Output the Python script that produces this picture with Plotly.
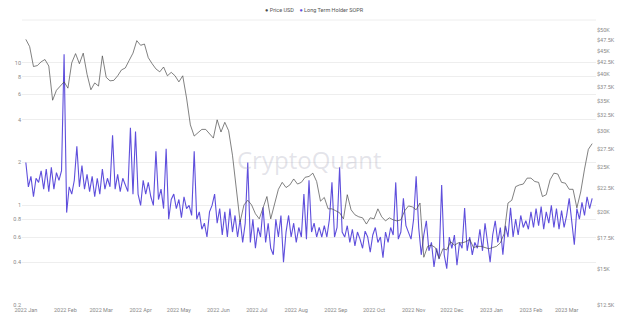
import math
import pandas as pd
import plotly.graph_objects as go

# ---- data ----
price_start = "2022-01-01"   # 3-day steps
price_usd_k = [
    47.7, 46.0, 41.6, 41.8, 42.6, 43.1, 41.7, 35.1, 36.9, 37.7, 38.5,
    37.3, 42.4, 44.4, 42.2, 44.5, 40.0, 37.0, 38.3, 37.7,
    43.9, 39.4, 38.7, 38.8, 39.7, 40.9, 41.3, 42.9, 44.5, 47.4,
    46.3, 46.6, 43.5, 42.2, 41.1, 40.5, 41.5, 39.7, 40.4, 39.7,
    38.5, 39.7, 35.5, 31.0, 29.3, 29.8, 30.3, 30.3, 29.6, 29.0, 31.8,
    29.9, 31.4, 30.1, 26.6, 22.6, 19.0, 20.7, 21.2, 20.7, 19.8,
    19.3, 20.5, 21.6, 19.3, 20.8, 22.4, 23.2, 22.6, 22.9, 23.6,
    23.0, 23.2, 23.8, 23.9, 24.3, 23.3, 21.1, 21.5, 20.3, 20.3,
    20.1, 19.9, 19.3, 21.8, 20.2, 19.7, 19.5, 19.4, 18.8, 19.4,
    19.3, 20.3, 19.5, 19.1, 19.4, 19.2, 19.1, 19.2, 20.1, 20.6, 20.5,
    20.2, 20.9, 15.9, 16.8, 16.9, 16.7, 15.8, 16.6, 16.5, 17.2,
    16.9, 17.1, 17.1, 17.2, 17.4, 16.7, 16.8, 16.8, 16.7, 16.6,
    16.7, 16.8, 17.1, 17.9, 20.9, 21.2, 22.7, 22.9, 23.0, 23.7,
    23.7, 23.3, 23.2, 21.6, 21.8, 23.5, 24.3, 24.2, 23.2, 23.1,
    22.4, 22.4, 20.4, 22.1, 24.8, 27.4, 28.2,
]

sopr_start = "2022-01-01"    # 2-day steps
lth_sopr = [
    # Jan - May 2022
    2.0, 1.35, 1.6, 1.15, 1.55, 1.45, 1.75, 1.3, 1.8, 1.25, 1.85, 1.3, 1.7, 1.5, 1.75,
    11.5, 0.89, 1.35, 1.2, 1.5, 2.6, 1.35, 1.9, 1.3, 1.65, 1.25, 1.6, 1.15, 1.55, 1.2,
    1.8, 1.3, 1.55, 1.35, 3.1, 1.3, 1.65, 1.25, 1.55, 1.4, 1.25, 3.5, 1.2, 3.3, 1.2,
    1.0, 1.5, 1.2, 1.45, 1.15, 1.0, 2.4, 1.1, 1.3, 0.95, 2.5, 0.8, 1.1, 1.2, 0.95,
    1.1, 0.82, 1.15, 0.95, 1.0, 0.85, 2.4, 0.8, 0.9, 0.68, 0.75, 0.6,
    # late May - Oct 2022
    0.9, 1.0, 1.2, 0.75, 0.95, 0.62, 0.9, 0.6, 0.95, 0.65, 0.85, 0.6, 0.8, 0.55, 0.75,
    2.0, 0.55, 0.8, 0.5, 0.7, 0.6, 0.97, 0.55, 0.75, 0.5, 0.45, 0.8, 0.6, 0.85, 0.4,
    0.65, 0.85, 0.6, 0.75, 0.55, 0.7, 0.6, 1.2, 0.58, 1.5, 0.65, 0.75, 0.6, 0.7, 0.6,
    0.72, 0.6, 0.8, 1.45, 0.6, 0.7, 1.85, 0.65, 0.6, 0.72, 0.55, 0.68, 0.52, 0.65, 0.58,
    0.5, 0.66, 0.6, 0.47, 0.62, 0.7, 0.55, 0.6, 0.43, 0.65, 0.55, 0.7, 0.62, 1.45, 0.58,
    0.65, 1.12,
    # Nov 2022 - Mar 2023
    0.72, 0.65, 0.58, 0.8, 1.6, 0.7, 0.45, 0.62, 0.78, 0.48, 0.55, 0.37, 0.5, 0.42, 1.39,
    0.45, 0.36, 0.6, 0.5, 0.62, 0.38, 0.55, 0.5, 0.96, 0.48, 0.6, 0.45, 0.55, 0.5, 0.68,
    0.48, 0.75, 0.55, 0.4, 0.62, 0.78, 0.55, 0.7, 0.45, 0.72, 0.6, 0.96, 0.6, 0.8, 0.62,
    0.85, 0.7, 0.78, 0.68, 0.9, 0.7, 0.95, 0.72, 0.98, 0.68, 0.9, 0.75, 1.0, 0.7, 0.95,
    0.68, 0.92, 0.7, 0.85, 1.12, 0.75, 0.53, 0.95, 0.8, 1.05, 0.85, 1.15, 0.95, 1.12,
]

left_ticks = [0.2, 0.4, 0.6, 0.8, 1, 2, 4, 6, 8, 10]
left_labels = ["0.2", "0.4", "0.6", "0.8", "1", "2", "4", "6", "8", "10"]
right_ticks = [12500, 15000, 17500, 20000, 22500, 25000, 27500, 30000, 32500,
               35000, 37500, 40000, 42500, 45000, 47500, 50000]
right_labels = ["$12.5K", "$15K", "$17.5K", "$20K", "$22.5K", "$25K", "$27.5K", "$30K",
                "$32.5K", "$35K", "$37.5K", "$40K", "$42.5K", "$45K", "$47.5K", "$50K"]

price_dates = pd.date_range(price_start, periods=len(price_usd_k), freq="3D")
sopr_dates = pd.date_range(sopr_start, periods=len(lth_sopr), freq="2D")

PRICE_C = "#4a4a4a"
SOPR_C = "#5f4fdc"
FONT = "Roboto"

fig = go.Figure()
fig.add_trace(go.Scatter(x=sopr_dates, y=lth_sopr, mode="lines", yaxis="y",
                         line=dict(color=SOPR_C, width=1.1), showlegend=False,
                         name="Long Term Holder SOPR"))
fig.add_trace(go.Scatter(x=price_dates, y=[p * 1000 for p in price_usd_k], mode="lines",
                         yaxis="y2", line=dict(color=PRICE_C, width=0.7),
                         showlegend=False, name="Price USD"))

legend_text = (f"<span style='color:{PRICE_C}'>●</span> Price USD"
               f"&nbsp;&nbsp;&nbsp;&nbsp;"
               f"<span style='color:{SOPR_C}'>●</span> Long Term Holder SOPR")

fig.update_layout(
    width=640, height=325,
    margin=dict(l=22, r=44, t=20, b=20),
    paper_bgcolor="white", plot_bgcolor="white",
    font=dict(family=FONT, size=6, color="#888"),
    showlegend=False,
    xaxis=dict(type="date", range=["2021-12-29", "2023-03-24"],
               tick0="2022-01-01", dtick="M1", tickformat="%Y %b",
               showgrid=False, zeroline=False, showline=False, ticks="",
               tickfont=dict(size=5.5, color="#888")),
    yaxis=dict(type="log", range=[math.log10(0.2), math.log10(20)],
               tickvals=left_ticks, ticktext=left_labels,
               showgrid=True, gridcolor="#eeeeee", gridwidth=1,
               zeroline=False, showline=False, ticks="",
               tickfont=dict(size=5.5, color="#888")),
    yaxis2=dict(type="log", overlaying="y", side="right",
                range=[math.log10(12500), math.log10(52600)],
                tickvals=right_ticks, ticktext=right_labels,
                showgrid=False, zeroline=False, showline=False, ticks="",
                tickfont=dict(size=5.5, color="#888")),
    annotations=[
        dict(text="CryptoQuant", x=0.5, y=0.51, xref="paper", yref="paper",
             showarrow=False,
             font=dict(family="Open Sans", size=24, color="rgba(170,170,190,0.33)")),
        dict(text=legend_text, x=0.509, y=1 + 10 / 285, xref="paper", yref="paper",
             xanchor="center", yanchor="middle", showarrow=False,
             font=dict(family=FONT, size=5.5, color="#555")),
    ],
    shapes=[dict(type="line", xref="paper", yref="paper", x0=0, x1=1, y0=1, y1=1,
                 line=dict(color="#eeeeee", width=1))],
)

fig.write_html("out.html")
